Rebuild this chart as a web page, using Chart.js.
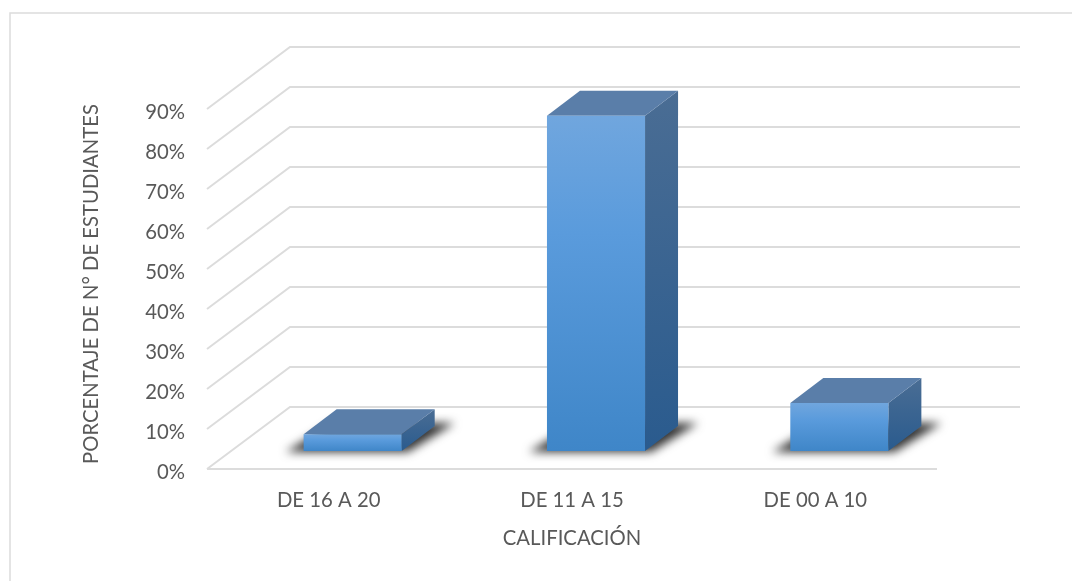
<!DOCTYPE html>
<html>
<head>
<meta charset="utf-8">
<title>Calificación</title>
<script src="https://cdn.jsdelivr.net/npm/chart.js@4"></script>
<style>
  body { margin: 0; background: #fff; }
</style>
</head>
<body>
<canvas id="barChart" width="1072" height="581"></canvas>
<script>
// data
const categories = ['DE 16 A 20', 'DE 11 A 15', 'DE 00 A 10'];
const percentages = [4.2, 83.8, 12];
const yTitle = 'PORCENTAJE DE N° DE ESTUDIANTES';
const xTitle = 'CALIFICACIÓN';

// fake 3D: how far the back wall and the bar depth sit from the front plane
const wall = { dx: 83, dy: -62 };
const barShift = { dx: 24, dy: -18 };
const depth = { dx: 33, dy: -25 };
const gridColor = '#dcdcdc';
const textColor = '#595959';
const font = { family: 'Lato', size: 20.3 };

function poly (ctx, pts, fill) {
    ctx.beginPath();
    pts.forEach(function (p, i) {
        if (i === 0) ctx.moveTo(p[0], p[1]);
        else ctx.lineTo(p[0], p[1]);
    });
    ctx.closePath();
    ctx.fillStyle = fill;
    ctx.fill();
}

// frame, floor and walls behind the bars
const wallPlugin = {
    id: 'wall',
    beforeDraw: function (chart) {
        const ctx = chart.ctx;
        const a = chart.chartArea;
        const y = chart.scales.y;
        ctx.save();
        ctx.strokeStyle = gridColor;
        ctx.lineWidth = 1.5;
        ctx.beginPath();
        ctx.moveTo(10, chart.height);
        ctx.lineTo(10, 13);
        ctx.lineTo(chart.width, 13);
        ctx.stroke();
        ctx.lineWidth = 2;
        y.ticks.forEach(function (t) {
            const py = y.getPixelForValue(t.value);
            ctx.beginPath();
            ctx.moveTo(a.left, py);
            ctx.lineTo(a.left + wall.dx, py + wall.dy);
            ctx.lineTo(a.right + wall.dx, py + wall.dy);
            ctx.stroke();
        });
        // front edge of the floor
        const y0 = y.getPixelForValue(0);
        ctx.beginPath();
        ctx.moveTo(a.left, y0);
        ctx.lineTo(a.right, y0);
        ctx.stroke();
        ctx.restore();
    }
};

// moves the bars onto the floor and adds shadow, top and side
const boxPlugin = {
    id: 'box',
    beforeDatasetsDraw: function (chart) {
        const ctx = chart.ctx;
        ctx.save();
        ctx.translate(barShift.dx, barShift.dy);
        chart.getDatasetMeta(0).data.forEach(function (bar) {
            const l = bar.x - bar.width / 2;
            const r = bar.x + bar.width / 2;
            const t = bar.y;
            const b = bar.base;

            ctx.save();
            ctx.filter = 'blur(5px)';
            poly(ctx, [
                [l - 18, b + 1], [r + 6, b + 1],
                [r + depth.dx + 20, b + depth.dy - 3], [l + 30, b + depth.dy - 3]
            ], '#333333');
            ctx.restore();

            const side = ctx.createLinearGradient(0, t + depth.dy, 0, b);
            side.addColorStop(0, '#4a6d94');
            side.addColorStop(1, '#2a5b8e');
            poly(ctx, [
                [r, t], [r + depth.dx, t + depth.dy],
                [r + depth.dx, b + depth.dy], [r, b]
            ], side);
            poly(ctx, [
                [l, t], [l + depth.dx, t + depth.dy],
                [r + depth.dx, t + depth.dy], [r, t]
            ], '#5a7ea9');
        });
    },
    afterDatasetsDraw: function (chart) {
        chart.ctx.restore();
    }
};

// light at the top of each bar, darker at the floor
function frontFill (context) {
    const y = context.chart.scales.y;
    if (!y || context.raw === undefined) return '#4a90d4';
    const top = y.getPixelForValue(context.raw);
    const bottom = y.getPixelForValue(0);
    // scales have no size yet on the first pass
    if (!isFinite(top) || !isFinite(bottom)) return '#4a90d4';
    const g = context.chart.ctx.createLinearGradient(0, top, 0, bottom);
    g.addColorStop(0, '#70a6de');
    g.addColorStop(0.35, '#5a9bdc');
    g.addColorStop(1, '#3f86c8');
    return g;
}

const data = {
    labels: categories,
    datasets: [
        {
            data: percentages,
            backgroundColor: frontFill,
            borderWidth: 0,
            barPercentage: 0.403,
            categoryPercentage: 1,
            clip: false
        }
    ]
};

const config = {
    type: 'bar',
    data: data,
    options: {
        responsive: false,
        animation: false,
        layout: { padding: { top: 99, right: 135, left: 0, bottom: 0 } },
        plugins: {
            legend: { display: false },
            tooltip: { enabled: false }
        },
        scales: {
            x: {
                afterFit: function (scale) { scale.height = 112; },
                grid: { display: false },
                border: { display: false },
                ticks: { color: textColor, font: font, padding: 11, maxRotation: 0 },
                title: {
                    display: true,
                    text: xTitle,
                    color: textColor,
                    font: font,
                    padding: { top: 0, bottom: 30 }
                }
            },
            y: {
                // the extra 2.5 keeps the axis title centred where it is in the original
                min: 0,
                max: 92.5,
                afterFit: function (scale) { scale.width = 207; },
                grid: { display: false },
                border: { display: false },
                ticks: {
                    stepSize: 10,
                    includeBounds: false,
                    color: textColor,
                    font: font,
                    padding: 14,
                    labelOffset: 3,
                    callback: function (v) { return v + '%'; }
                },
                title: {
                    display: true,
                    text: yTitle,
                    color: textColor,
                    font: font,
                    padding: { top: 79, bottom: 0 }
                }
            }
        }
    },
    plugins: [wallPlugin, boxPlugin]
};

const myChart = new Chart(document.getElementById('barChart'), config);
</script>
</body>
</html>
